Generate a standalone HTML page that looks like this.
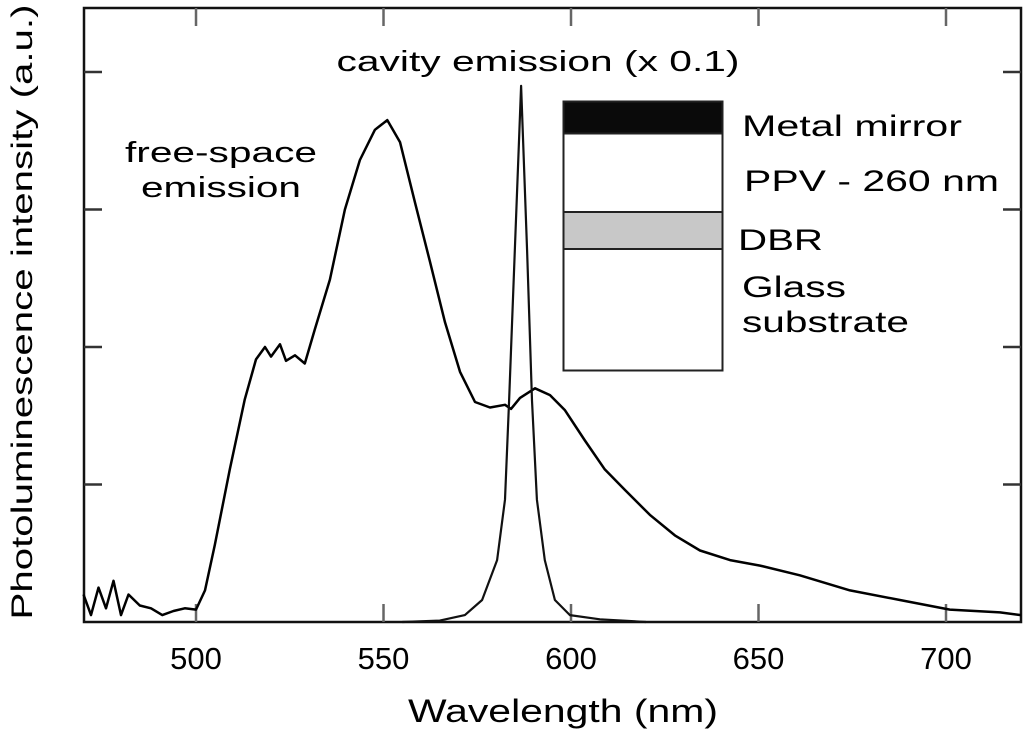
<!DOCTYPE html>
<html><head><meta charset="utf-8"><style>
html,body{margin:0;padding:0;background:#fff;}
svg{display:block;font-family:"Liberation Sans",sans-serif;}
</style></head><body>
<svg id="chart" width="1024" height="733" viewBox="0 0 1024 733" xmlns="http://www.w3.org/2000/svg">
<g id="axes"></g>
<g id="series"></g>
<text x="0" y="0" transform="translate(32,312) rotate(-90)" text-anchor="middle" font-size="30" textLength="615" lengthAdjust="spacingAndGlyphs">Photoluminescence intensity (a.u.)</text>
<text x="563" y="722" text-anchor="middle" font-size="32" textLength="310" lengthAdjust="spacingAndGlyphs">Wavelength (nm)</text>
<text x="538" y="71" text-anchor="middle" font-size="29" textLength="403" lengthAdjust="spacingAndGlyphs">cavity emission (x 0.1)</text>
<text x="221" y="162" text-anchor="middle" font-size="29" textLength="192" lengthAdjust="spacingAndGlyphs">free-space</text>
<text x="221" y="197" text-anchor="middle" font-size="29" textLength="160" lengthAdjust="spacingAndGlyphs">emission</text>
<g>
<rect x="563.5" y="101.5" width="159" height="269" fill="#fff" stroke="#222" stroke-width="2"/>
<rect x="563.5" y="101.5" width="159" height="32" fill="#0a0a0a" stroke="#222" stroke-width="2"/>
<rect x="563.5" y="212" width="159" height="37" fill="#c8c8c8" stroke="#222" stroke-width="2"/>
<text x="742" y="136" font-size="30" textLength="220" lengthAdjust="spacingAndGlyphs">Metal mirror</text>
<text x="744" y="191" font-size="30" textLength="255" lengthAdjust="spacingAndGlyphs">PPV - 260 nm</text>
<text x="738" y="250" font-size="30" textLength="85" lengthAdjust="spacingAndGlyphs">DBR</text>
<text x="742" y="297" font-size="30" textLength="104" lengthAdjust="spacingAndGlyphs">Glass</text>
<text x="742" y="332" font-size="30" textLength="167" lengthAdjust="spacingAndGlyphs">substrate</text>
</g>
</svg>
<script>
const xTicks = [500, 550, 600, 650, 700];
const xTickLabels = ["500", "550", "600", "650", "700"];
const yTicks = [1, 2, 3, 4];
const freeNm = [470,472,474,476,478,480,482,485,488,491,494,497,500,502.4,505,509,513,516,518.4,520,522.4,524,526.4,529,531.7,535.7,539.7,543.7,547.7,551,554.4,558.4,562.4,566.4,570.4,574.4,578.4,582.4,584,586.4,590.4,594.4,598.4,603.7,609,614.4,621,627.7,634.4,642.4,650.4,661,674.4,687.7,701,714.4,720];
const freeVal = [0.2,0.05,0.25,0.1,0.3,0.05,0.2,0.12,0.1,0.05,0.08,0.1,0.09,0.23,0.56,1.11,1.62,1.91,2.0,1.93,2.02,1.9,1.94,1.88,2.13,2.49,3.0,3.36,3.58,3.65,3.49,3.05,2.62,2.18,1.82,1.6,1.56,1.58,1.55,1.63,1.7,1.65,1.54,1.32,1.11,0.96,0.78,0.63,0.52,0.45,0.41,0.34,0.23,0.16,0.09,0.07,0.05];
const cavNm = [555,565,571.7,576.3,580.3,582.4,583.5,585,586.7,588.3,589.6,590.9,593,595.7,599.7,607.7,620];
const cavVal = [0.0,0.01,0.05,0.16,0.45,0.89,1.61,2.7,3.9,2.7,1.61,0.89,0.45,0.16,0.05,0.02,0.0];

const X0=84, X1=1021, Y0=622, Y1=8, NMIN=470.13, NMAX=720;
function sx(n){return X0+(n-NMIN)/(NMAX-NMIN)*(X1-X0);}
function sy(v){return Y0-v*137.5;}
const NS="http://www.w3.org/2000/svg";
const axes=document.getElementById('axes');
const series=document.getElementById('series');
function mk(tag,attrs,parent){const e=document.createElementNS(NS,tag);for(const k in attrs)e.setAttribute(k,attrs[k]);parent.appendChild(e);return e;}

const frame=mk('rect',{x:X0,y:Y1,width:X1-X0,height:Y0-Y1,fill:'none',stroke:'#111','stroke-width':2.5},axes);



xTicks.forEach((t,i)=>{
  const x=sx(t);
  const a=mk('line',{x1:x,x2:x,y1:Y0,y2:Y0-18,stroke:'#666','stroke-width':2.5},axes);
  
  
  const b=mk('line',{x1:x,x2:x,y1:Y1,y2:Y1+18,stroke:'#666','stroke-width':2.5},axes);
  
  
  const l=mk('text',{x:x,y:669,'text-anchor':'middle','font-size':31},axes);
  l.textContent=xTickLabels[i];
  
  
});
yTicks.forEach(t=>{
  const y=sy(t);
  const a=mk('line',{x1:X0,x2:X0+18,y1:y,y2:y,stroke:'#333','stroke-width':2.5},axes);
  
  
  const b=mk('line',{x1:X1,x2:X1-18,y1:y,y2:y,stroke:'#333','stroke-width':2.5},axes);
  
  
});
function path(nm,val){return nm.map((n,i)=>(i?'L':'M')+sx(n).toFixed(1)+','+sy(val[i]).toFixed(1)).join(' ');}
const fs=mk('path',{d:path(freeNm,freeVal),fill:'none',stroke:'#000','stroke-width':2.5,'stroke-linejoin':'round'},series);


const cv=mk('path',{d:path(cavNm,cavVal),fill:'none',stroke:'#111','stroke-width':2.2,'stroke-linejoin':'round'},series);


</script>
</body></html>
